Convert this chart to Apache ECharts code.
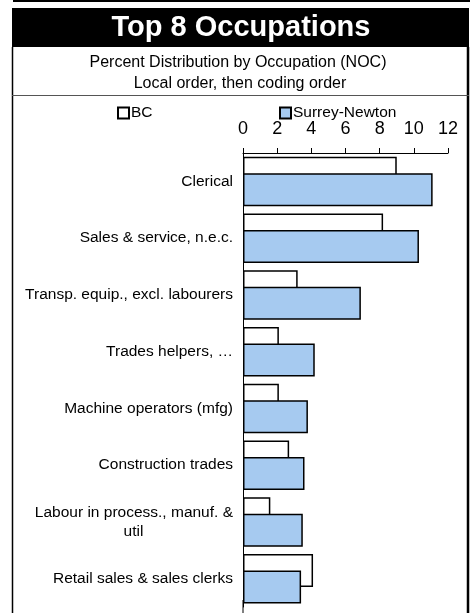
<!DOCTYPE html>
<html><head><meta charset="utf-8">
<script src="https://cdn.jsdelivr.net/npm/echarts@6/dist/echarts.min.js"></script>
<style>html,body{margin:0;padding:0;background:#fff}#c{width:474px;height:613px}</style>
</head><body><div id="c"></div>
<script>
const categories = [
  'Clerical',
  'Sales & service, n.e.c.',
  'Transp. equip., excl. labourers',
  'Trades helpers, \u2026',
  'Machine operators (mfg)',
  'Construction trades',
  'Labour in process., manuf. &\nutil',
  'Retail sales & sales clerks'
];
const seriesNames = ['BC', 'Surrey-Newton'];
const bcValues = [9.0, 8.2, 3.2, 2.1, 2.1, 2.7, 1.6, 4.1];
const surreyValues = [11.1, 10.3, 6.9, 4.2, 3.8, 3.6, 3.5, 3.4];
const xMin = 0, xMax = 12, xStep = 2;
const titleText = 'Top 8 Occupations';
const subtitle1 = 'Percent Distribution by Occupation (NOC)';
const subtitle2 = 'Local order, then coding order';

const FONT = 'Liberation Sans, Arial, sans-serif';
const chart = echarts.init(document.getElementById('c'), null, {renderer: 'canvas'});

function catLabel(v) {
  if (v.indexOf('\n') >= 0) {
    const parts = v.split('\n');
    return '{a|' + parts[0] + '}\n{b|' + parts[1] + '}';
  }
  return '{a|' + v + '}';
}

chart.setOption({
  backgroundColor: '#fff',
  animation: false,
  textStyle: {fontFamily: FONT, color: '#000'},
  graphic: [
    {type: 'rect', shape: {x: 13, y: 0, width: 457, height: 2}, style: {fill: '#000'}},
    {type: 'rect', shape: {x: 12, y: 8, width: 457, height: 39}, style: {fill: '#000'}},
    {type: 'text', x: 241, y: 28, style: {text: titleText, fill: '#fff', font: 'bold 29px ' + FONT, align: 'center', verticalAlign: 'middle'}},
    {type: 'text', x: 238, y: 63, style: {text: subtitle1, fill: '#000', font: '16px ' + FONT, align: 'center', verticalAlign: 'middle'}},
    {type: 'text', x: 240, y: 84, style: {text: subtitle2, fill: '#000', font: '16px ' + FONT, align: 'center', verticalAlign: 'middle'}},
    {type: 'line', shape: {x1: 12.5, y1: 47, x2: 12.5, y2: 613}, style: {stroke: '#000', lineWidth: 1.5}},
    {type: 'line', shape: {x1: 468, y1: 47, x2: 468, y2: 613}, style: {stroke: '#000', lineWidth: 2.5}},
    {type: 'line', shape: {x1: 12, y1: 95.5, x2: 469, y2: 95.5}, style: {stroke: '#555', lineWidth: 1}},
    {type: 'line', shape: {x1: 243, y1: 600, x2: 243, y2: 613}, style: {stroke: '#000', lineWidth: 1}}
  ],
  legend: [
    {data: [seriesNames[0]], left: 112, top: 100, itemWidth: 11, itemHeight: 11, itemGap: 2,
     textStyle: {fontFamily: FONT, fontSize: 15.5, color: '#000', padding: [0, 0, 0, -3]}, icon: 'rect'},
    {data: [seriesNames[1]], left: 274, top: 100, itemWidth: 11, itemHeight: 11, itemGap: 2,
     textStyle: {fontFamily: FONT, fontSize: 15.5, color: '#000', padding: [0, 0, 0, -3]}, icon: 'rect'}
  ],
  grid: {left: 243, right: 26, top: 153, bottom: 6, containLabel: false},
  xAxis: {
    type: 'value', position: 'top', min: xMin, max: xMax, interval: xStep,
    axisLine: {show: true, lineStyle: {color: '#000', width: 1}},
    axisTick: {show: true, length: 5, lineStyle: {color: '#000'}},
    axisLabel: {fontFamily: FONT, fontSize: 18, color: '#000', margin: 15},
    splitLine: {show: false}
  },
  yAxis: {
    type: 'category', data: categories, inverse: true,
    axisLine: {show: true, lineStyle: {color: '#000', width: 1}},
    axisTick: {show: false},
    axisLabel: {
      margin: 10, formatter: catLabel, lineHeight: 19,
      rich: {
        a: {fontFamily: FONT, fontSize: 15.5, color: '#000', lineHeight: 19},
        b: {fontFamily: FONT, fontSize: 15.5, color: '#000', lineHeight: 19, width: 199, align: 'center'}
      }
    }
  },
  series: [
    {name: seriesNames[0], type: 'bar', data: bcValues, barWidth: 33, barGap: '-50%',
     itemStyle: {color: '#fff', borderColor: '#000', borderWidth: 1.5}},
    {name: seriesNames[1], type: 'bar', data: surreyValues, barWidth: 33,
     itemStyle: {color: '#A6CAF0', borderColor: '#000', borderWidth: 1.5}}
  ]
});
</script></body></html>
